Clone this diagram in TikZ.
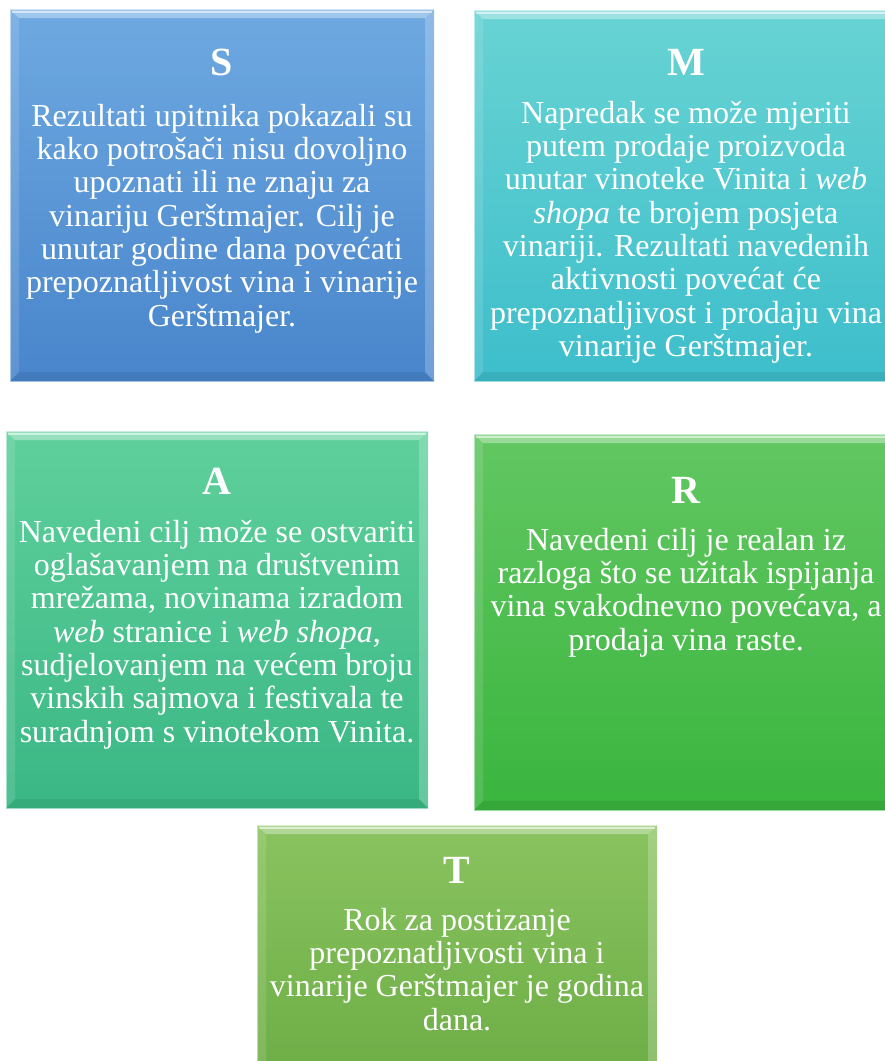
\documentclass[tikz,border=0pt]{standalone}
\usepackage{fontspec}
\setmainfont{Liberation Serif}
\usetikzlibrary{calc}
\newcommand\bevelbox[6]{%
  \shade[top color=#5,bottom color=#6] (#1,#2) rectangle (#3,#4);
  \pgfmathsetmacro\bbxa{#1+9}\pgfmathsetmacro\bbxb{#3-9}%
  \pgfmathsetmacro\bbya{#2+9}\pgfmathsetmacro\bbyb{#4-9}%
  \fill[white,opacity=.35] (#1,#2)--(#3,#2)--(\bbxb,\bbya)--(\bbxa,\bbya)--cycle;
  \fill[white,opacity=.12] (#1,#2)--(\bbxa,\bbya)--(\bbxa,\bbyb)--(#1,#4)--cycle;
  \fill[white,opacity=.22] (#3,#2)--(#3,#4)--(\bbxb,\bbyb)--(\bbxb,\bbya)--cycle;
  \fill[black,opacity=.07] (#1,#4)--(#3,#4)--(\bbxb,\bbyb)--(\bbxa,\bbyb)--cycle;
  \draw[white,opacity=.55,line width=1.5pt] (#1+2,#2+3)--(#3-2,#2+3);
  \draw[white,opacity=.5,line width=1pt] (#1,#2) rectangle (#3,#4);
}
\tikzset{
  title/.style={text=white,font=\fontsize{40}{44}\selectfont\bfseries,inner sep=0,anchor=base},
  body/.style={text=white,font=\fontsize{32}{33.3}\selectfont,align=center,inner sep=0,anchor=north},
}
\definecolor{sTop}{HTML}{6EA9E1}\definecolor{sBot}{HTML}{4885CB}
\definecolor{mTop}{HTML}{68D3D3}\definecolor{mBot}{HTML}{3DBECB}
\definecolor{aTop}{HTML}{5FD09B}\definecolor{aBot}{HTML}{3AB785}
\definecolor{rTop}{HTML}{62C762}\definecolor{rBot}{HTML}{3AB53E}
\definecolor{tTop}{HTML}{89C35F}\definecolor{tBot}{HTML}{6DAD46}
\begin{document}
\begin{tikzpicture}[x=1pt,y=-1pt]
\useasboundingbox (0,0) rectangle (885,1061);
\clip (0,0) rectangle (885,1061);
\fill[white] (0,0) rectangle (885,1061);
% boxes
\bevelbox{10}{9}{434}{381}{sTop}{sBot}
\bevelbox{474}{10}{898}{381}{mTop}{mBot}
\bevelbox{6}{431}{428}{808}{aTop}{aBot}
\bevelbox{474}{434}{898}{810}{rTop}{rBot}
\bevelbox{257}{825}{657}{1080}{tTop}{tBot}
% S
\node[title] (sT) at (222,75) {S};
\node[body] (sB) at (222,102.7) {\strut Rezultati upitnika pokazali su\\
kako potrošači nisu dovoljno\\
upoznati ili ne znaju za\\
vinariju Gerštmajer. Cilj je\\
unutar godine dana povećati\\
prepoznatljivost vina i vinarije\\
Gerštmajer.};
% M
\node[title] (mT) at (686,75) {M};
\node[body] (mB) at (686,99.7) {\strut Napredak se može mjeriti\\
putem prodaje proizvoda\\
unutar vinoteke Vinita i \textit{web}\\
\textit{shopa} te brojem posjeta\\
vinariji. Rezultati navedenih\\
aktivnosti povećat će\\
prepoznatljivost i prodaju vina\\
vinarije Gerštmajer.};
% A
\node[title] (aT) at (217,494) {A};
\node[body] (aB) at (217,518.7) {\strut Navedeni cilj može se ostvariti\\
oglašavanjem na društvenim\\
mrežama, novinama izradom\\
\textit{web} stranice i \textit{web shopa},\\
sudjelovanjem na većem broju\\
vinskih sajmova i festivala te\\
suradnjom s vinotekom Vinita.};
% R
\node[title] (rT) at (686,503) {R};
\node[body] (rB) at (686,526.7) {\strut Navedeni cilj je realan iz\\
razloga što se užitak ispijanja\\
vina svakodnevno povećava, a\\
prodaja vina raste.};
% T
\node[title] (tT) at (457,883) {T};
\node[body] (tB) at (457,906.7) {\strut Rok za postizanje\\
prepoznatljivosti vina i\\
vinarije Gerštmajer je godina\\
dana.};
\end{tikzpicture}
\end{document}
